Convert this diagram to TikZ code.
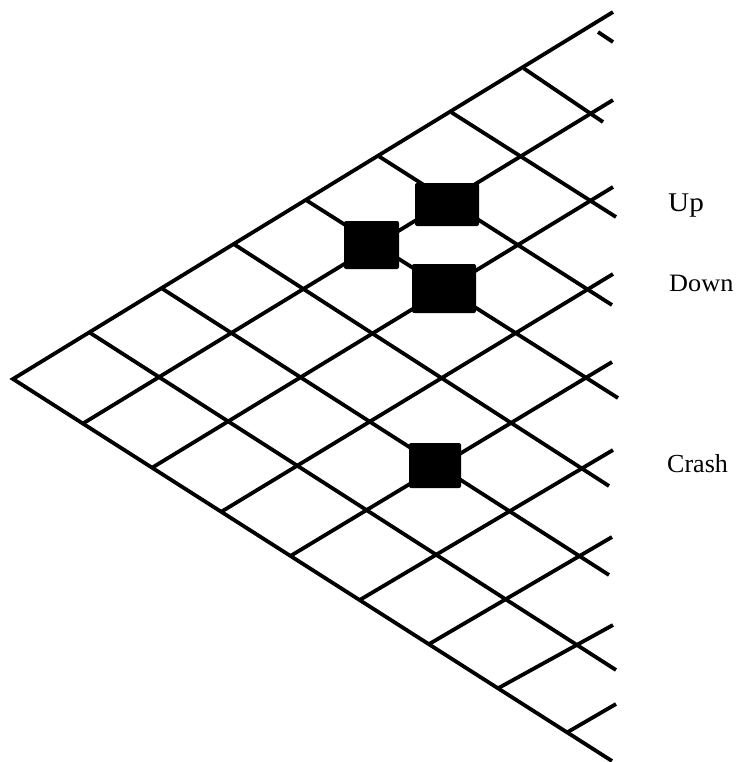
\documentclass[tikz,border=0pt]{standalone}
\usepackage{fontspec}
\setmainfont{Liberation Serif}
\begin{document}
\begin{tikzpicture}[x=1pt,y=-1pt,
  grid/.style={line width=3.8pt, black},
  cell/.style={fill=black, draw=none, rounded corners=2pt, inner sep=0pt, outer sep=0pt},
  lbl/.style={anchor=base west, inner sep=0pt, font=\fontsize{26}{30}\selectfont}]
\useasboundingbox (0,0) rectangle (736,762);

% outer edges of the lattice, meeting at the apex
\coordinate (apex) at (13,379);
\coordinate (top) at (613,12);
\coordinate (bot) at (612,761);
\draw[grid, line join=miter] (top) -- (apex) -- (bot);

% rising lines, starting on the lower edge
\foreach \i/\sx/\sy/\ex/\ey in {
    1/82/424.1/613/100,
    2/151.3/468.2/613/187,
    3/220.6/512.2/613/274,
    4/289.9/556.3/612/362,
    5/359.2/600.3/613/450,
    6/428.5/644.4/612/537,
    7/497.8/688.4/613/625,
    8/567.1/732.4/616/704} {
  \coordinate (L\i) at (\sx,\sy);
  \coordinate (LE\i) at (\ex,\ey);
  \draw[grid] (L\i) -- (LE\i);
}

% falling lines, starting on the upper edge
\foreach \i/\sx/\sy/\ex/\ey in {
    1/90/332.8/616/670,
    2/162.3/288.7/609/575,
    3/234.6/244.6/609/486,
    4/306.9/200.6/618/398,
    5/379.2/156.5/612/305,
    6/451.5/112.4/616/217,
    7/523.8/68.4/603/122} {
  \coordinate (U\i) at (\sx,\sy);
  \coordinate (UE\i) at (\ex,\ey);
  \draw[grid] (U\i) -- (UE\i);
}
% short last stub below the top edge
\coordinate (U8) at (598,32);
\coordinate (UE8) at (613,42);
\draw[grid] (U8) -- (UE8);

% marked states
\node[cell, minimum width=55pt, minimum height=48pt] (mid)   at (371.5,245) {};
\node[cell, minimum width=64pt, minimum height=43pt] (up)    at (447,204.5) {};
\node[cell, minimum width=64pt, minimum height=49pt] (down)  at (444,288.5) {};
\node[cell, minimum width=52pt, minimum height=45pt] (crash) at (435,465.5) {};

% labels
\node[lbl, font=\fontsize{27}{30}\selectfont, xscale=1.08] (uplbl) at (668,211) {Up};
\node[lbl, font=\fontsize{25}{30}\selectfont, xscale=1.05] (downlbl) at (669,291) {Down};
\node[lbl] (crashlbl) at (667,472) {Crash};
\end{tikzpicture}
\end{document}
